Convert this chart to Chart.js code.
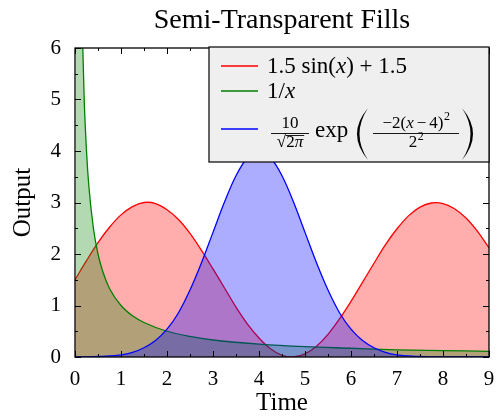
<!DOCTYPE html>
<html>
<head>
<meta charset="utf-8">
<script src="https://cdn.jsdelivr.net/npm/chart.js@4.4.0/dist/chart.umd.min.js"></script>
<style>
  html, body { margin: 0; padding: 0; background: #fff; }
  canvas { display: block; }
</style>
</head>
<body>
<canvas id="plot" width="497" height="418"></canvas>
<script>
// sample positions read along the time axis
const times = [0, 0.25, 0.5, 0.75, 1, 1.25, 1.5, 1.75, 2, 2.25, 2.5, 2.75, 3, 3.25, 3.5, 3.75,
  4, 4.25, 4.5, 4.75, 5, 5.25, 5.5, 5.75, 6, 6.25, 6.5, 6.75, 7, 7.25, 7.5, 7.75, 8, 8.25, 8.5, 8.75, 9];
// red: 1.5 sin(x) + 1.5
const sineOut = [1.5, 1.87, 2.22, 2.52, 2.76, 2.92, 3.0, 2.98, 2.86, 2.67, 2.4, 2.07, 1.71, 1.34, 0.97, 0.64,
  0.37, 0.16, 0.03, 0.0, 0.06, 0.21, 0.44, 0.74, 1.08, 1.45, 1.82, 2.18, 2.49, 2.74, 2.91, 2.99, 2.98, 2.88, 2.7, 2.44, 2.12];
// blue: gaussian bump around t = 4
const bumpOut = [0.0, 0.0, 0.01, 0.02, 0.04, 0.09, 0.18, 0.32, 0.54, 0.86, 1.3, 1.83, 2.42, 3.01, 3.52, 3.87,
  3.99, 3.87, 3.52, 3.01, 2.42, 1.83, 1.3, 0.86, 0.54, 0.32, 0.18, 0.09, 0.04, 0.02, 0.01, 0.0, 0.0, 0.0, 0.0, 0.0, 0.0];
// green: 1/x, denser near zero
const invTimes = [0.02, 0.1, 0.15, 0.2, 0.25, 0.3, 0.4, 0.5, 0.6, 0.75, 1, 1.25, 1.5, 2, 2.5, 3, 4, 5, 6, 7, 8, 9];
const invOut = [50, 10, 6.67, 5, 4, 3.33, 2.5, 2, 1.67, 1.33, 1, 0.8, 0.67, 0.5, 0.4, 0.33, 0.25, 0.2, 0.17, 0.14, 0.125, 0.11];

const xTicks = [0, 1, 2, 3, 4, 5, 6, 7, 8, 9];
const yTicks = [0, 1, 2, 3, 4, 5, 6];

const serif = "'Liberation Serif', 'DejaVu Serif', serif";
Chart.defaults.font.family = serif;
Chart.defaults.color = '#000';

const pts = (xv, yv) => xv.map((x, i) => ({ x: x, y: yv[i] }));

// frame, inward ticks, title and the legend box
const decorations = {
  id: 'decorations',
  afterDraw(chart) {
    const ctx = chart.ctx;
    const a = chart.chartArea;
    const xs = chart.scales.x, ys = chart.scales.y;
    ctx.save();
    ctx.strokeStyle = '#000';
    ctx.lineWidth = 1;
    ctx.beginPath();
    for (let v = 0; v <= 9; v += 0.5) {
      const p = Math.round(xs.getPixelForValue(v)) + 0.5;
      const len = Number.isInteger(v) ? 6 : 3;
      ctx.moveTo(p, a.bottom); ctx.lineTo(p, a.bottom - len);
      ctx.moveTo(p, a.top); ctx.lineTo(p, a.top + len);
    }
    for (let v = 0; v <= 6; v += 0.5) {
      const p = Math.round(ys.getPixelForValue(v)) + 0.5;
      const len = Number.isInteger(v) ? 6 : 3;
      ctx.moveTo(a.left, p); ctx.lineTo(a.left + len, p);
      ctx.moveTo(a.right, p); ctx.lineTo(a.right - len, p);
    }
    ctx.stroke();
    ctx.lineWidth = 1.3;
    ctx.strokeRect(a.left, a.top, a.right - a.left, a.bottom - a.top);

    // title
    ctx.fillStyle = '#000';
    ctx.font = '28px ' + serif;
    ctx.textAlign = 'center';
    ctx.textBaseline = 'alphabetic';
    ctx.fillText('Semi-Transparent Fills', (a.left + a.right) / 2, 28);

    // legend
    const bw = 280, bh = 115;
    const bx = a.right - bw, by = a.top - 1;
    ctx.fillStyle = '#efefef';
    ctx.fillRect(bx, by, bw, bh);
    ctx.lineWidth = 1.2;
    ctx.strokeRect(bx, by, bw, bh);

    const sample = (y, color) => {
      ctx.strokeStyle = color; ctx.lineWidth = 1.3;
      ctx.beginPath(); ctx.moveTo(bx + 12, y); ctx.lineTo(bx + 49, y); ctx.stroke();
    };
    const widthOf = parts => parts.reduce((w, [t, f]) => { ctx.font = f; return w + ctx.measureText(t).width; }, 0);
    const run = (parts, x, y) => {
      ctx.textAlign = 'left';
      for (const [txt, font] of parts) {
        ctx.font = font;
        ctx.fillText(txt, x, y);
        x += ctx.measureText(txt).width;
      }
      return x;
    };
    const up = '23px ' + serif, it = 'italic 23px ' + serif;
    const sUp = '17px ' + serif, sIt = 'italic 17px ' + serif, tiny = '12px ' + serif;
    ctx.fillStyle = '#000';
    ctx.textBaseline = 'alphabetic';

    sample(by + 19, '#ff0000');
    ctx.fillStyle = '#000';
    run([['1.5 sin(', up], ['x', it], [') + 1.5', up]], bx + 58, by + 26);
    sample(by + 44, '#008000');
    ctx.fillStyle = '#000';
    run([['1/', up], ['x', it]], bx + 58, by + 51);

    sample(by + 82, '#0000ff');
    ctx.fillStyle = '#000';
    ctx.strokeStyle = '#000';
    ctx.lineWidth = 0.9;
    // first fraction: 10 over sqrt(2 pi)
    const f1 = bx + 81;
    ctx.textAlign = 'center';
    ctx.font = sUp;
    ctx.fillText('10', f1, by + 81);
    ctx.beginPath(); ctx.moveTo(f1 - 19, by + 86.5); ctx.lineTo(f1 + 19, by + 86.5); ctx.stroke();
    const den1 = [['\u221A', sUp], ['2', sUp], ['\u03C0', sIt]];
    const d1w = widthOf(den1);
    let q = f1 - d1w / 2;
    ctx.font = sUp;
    const q0 = q + ctx.measureText('\u221A').width;
    q = run(den1, q, by + 100);
    ctx.beginPath(); ctx.moveTo(q0 - 0.5, by + 88.5); ctx.lineTo(q + 1, by + 88.5); ctx.stroke();
    // exp
    run([['exp', up]], bx + 106, by + 90);
    // tall parentheses
    const paren = (x0, dir) => {
      const top = by + 61, bot = by + 113, mid = (top + bot) / 2;
      ctx.beginPath();
      ctx.moveTo(x0, top);
      ctx.quadraticCurveTo(x0 - dir * 22, mid, x0, bot);
      ctx.quadraticCurveTo(x0 - dir * 17, mid, x0, top);
      ctx.fill();
    };
    paren(bx + 159, 1);
    paren(bx + 253, -1);
    // second fraction
    const f2 = bx + 207;
    const gap = 3;
    const numParts = [['\u22122(', sUp], ['x', sIt]];
    const restParts = [['\u2212', sUp]];
    const tailParts = [['4)', sUp]];
    const nw = widthOf(numParts) + widthOf(restParts) + widthOf(tailParts) + widthOf([['2', tiny]]) + 2 * gap;
    let e = run(numParts, f2 - nw / 2, by + 81);
    e = run(restParts, e + gap, by + 81);
    e = run(tailParts, e + gap, by + 81);
    run([['2', tiny]], e + 0.5, by + 73);
    ctx.beginPath(); ctx.moveTo(f2 - 43, by + 86.5); ctx.lineTo(f2 + 43, by + 86.5); ctx.stroke();
    const dw = widthOf([['2', sUp], ['2', tiny]]);
    e = run([['2', sUp]], f2 - dw / 2, by + 100);
    run([['2', tiny]], e + 0.5, by + 93);
    ctx.restore();
  }
};

new Chart(document.getElementById('plot'), {
  type: 'line',
  data: {
    datasets: [
      {
        label: '1.5 sin(x) + 1.5',
        data: pts(times, sineOut),
        borderColor: '#ff0000',
        backgroundColor: 'rgba(255, 0, 0, 0.32)',
        fill: 'origin',
        tension: 0.35,
        order: 3
      },
      {
        label: '1/x',
        data: pts(invTimes, invOut),
        borderColor: '#008000',
        backgroundColor: 'rgba(0, 128, 0, 0.3)',
        fill: 'origin',
        cubicInterpolationMode: 'monotone',
        order: 2
      },
      {
        label: 'gaussian',
        data: pts(times, bumpOut),
        borderColor: '#0000ff',
        backgroundColor: 'rgba(0, 0, 255, 0.32)',
        fill: 'origin',
        tension: 0.35,
        order: 1
      }
    ]
  },
  options: {
    responsive: false,
    animation: false,
    elements: {
      point: { radius: 0 },
      line: { borderWidth: 1.3 }
    },
    layout: { padding: { top: 48, right: 8, left: 0, bottom: 0 } },
    plugins: {
      legend: { display: false },
      title: { display: false },
      tooltip: { enabled: false }
    },
    scales: {
      x: {
        type: 'linear',
        min: 0,
        max: 9,
        afterBuildTicks: s => { s.ticks = xTicks.map(v => ({ value: v })); },
        afterFit: s => { s.height = 61; s.paddingLeft = 0; s.paddingRight = 0; },
        grid: { display: false, drawTicks: false },
        border: { display: false },
        ticks: { font: { size: 21 }, padding: 10, maxRotation: 0 },
        title: { display: true, text: 'Time', font: { size: 25 }, padding: { top: 0, bottom: 0 } }
      },
      y: {
        min: 0,
        max: 6,
        afterBuildTicks: s => { s.ticks = yTicks.map(v => ({ value: v })); },
        afterFit: s => { s.width = 75; s.paddingTop = 0; s.paddingBottom = 0; },
        grid: { display: false, drawTicks: false },
        border: { display: false },
        ticks: { font: { size: 21 }, padding: 14 },
        title: { display: true, text: 'Output', font: { size: 25 }, padding: { top: 8, bottom: 0 } }
      }
    }
  },
  plugins: [decorations]
});
</script>
</body>
</html>
